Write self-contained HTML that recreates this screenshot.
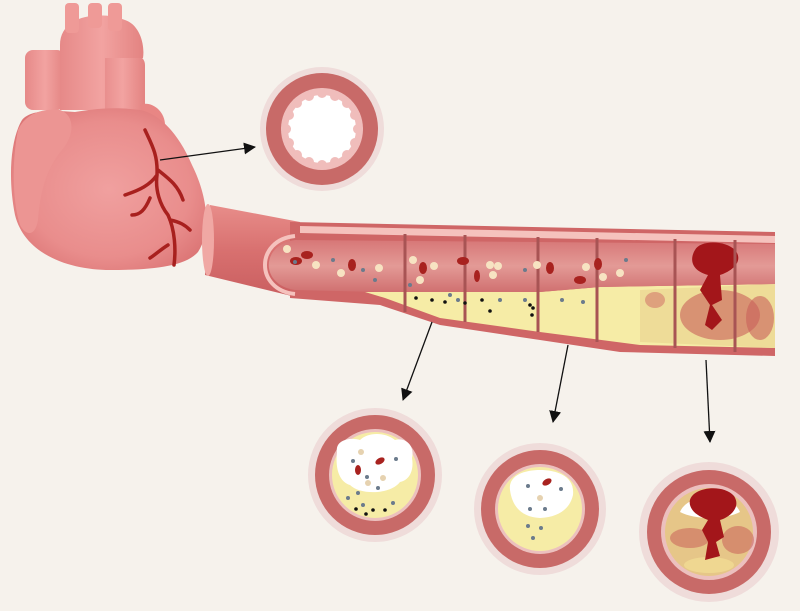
<!DOCTYPE html>
<html><head><meta charset="utf-8"><style>
html,body{margin:0;padding:0;background:#f6f2ec;}
svg{display:block}
</style></head><body>
<svg width="800" height="611" viewBox="0 0 800 611" xmlns="http://www.w3.org/2000/svg">
<defs>
<radialGradient id="hg" cx="0.5" cy="0.5" r="0.6"><stop offset="0" stop-color="#f0a09f"/><stop offset="0.7" stop-color="#e98d8c"/><stop offset="1" stop-color="#dc7676"/></radialGradient>
<linearGradient id="ao" x1="0" y1="0" x2="1" y2="0"><stop offset="0" stop-color="#e68988"/><stop offset="0.5" stop-color="#f2a3a1"/><stop offset="1" stop-color="#e38381"/></linearGradient>
<linearGradient id="tube" x1="0" y1="0" x2="0" y2="1"><stop offset="0" stop-color="#e88d8a"/><stop offset="0.5" stop-color="#d8706f"/><stop offset="1" stop-color="#c95e60"/></linearGradient>
<linearGradient id="lum" x1="0" y1="0" x2="0" y2="1"><stop offset="0" stop-color="#d77777"/><stop offset="0.5" stop-color="#e39a96"/><stop offset="1" stop-color="#d07070"/></linearGradient>
<marker id="ar" markerWidth="12" markerHeight="12" refX="11" refY="6" orient="auto" markerUnits="userSpaceOnUse"><path d="M0,0 L12,6 L0,12 z" fill="#111"/></marker>
</defs>
<rect width="800" height="611" fill="#f6f2ec"/>

<!-- heart -->
<g>
<rect x="25" y="50" width="40" height="60" rx="8" fill="url(#ao)"/>
<rect x="100" y="55" width="45" height="60" rx="10" fill="url(#ao)"/>
<path d="M60,110 L60,45 C60,15 100,10 125,20 C140,25 145,45 143,58 L105,58 L105,110 Z" fill="url(#ao)"/>
<rect x="65" y="3" width="14" height="30" rx="4" fill="#ef9a97"/>
<rect x="88" y="3" width="14" height="25" rx="4" fill="#ef9a97"/>
<rect x="108" y="3" width="14" height="28" rx="4" fill="#ef9a97"/>
<path d="M140,105 C150,100 165,110 165,125 L145,130 Z" fill="#e88684"/>
<path d="M22,120 C10,140 8,180 15,215 C25,255 70,270 110,270 C150,270 185,267 198,252 C212,230 207,195 192,165 C177,130 157,113 140,110 C110,106 90,110 75,112 C50,110 30,110 22,120 Z" fill="url(#hg)"/>
<path d="M18,130 C12,160 12,200 20,225 C25,235 35,238 38,220 C40,195 45,170 62,150 C75,135 75,115 60,110 C40,108 25,115 18,130 Z" fill="#ec9593"/>
<path d="M145,130 C152,145 158,155 157,175 C155,190 160,205 168,215 C175,230 176,250 174,265 M157,175 C150,185 140,190 125,195 M150,198 C145,210 140,215 132,215 M158,170 C168,178 178,185 183,200 M170,220 C180,222 185,225 190,230 M168,245 C160,250 155,255 150,258" stroke="#a8201e" stroke-width="3.5" fill="none" stroke-linecap="round"/>
</g>

<!-- top circle -->
<circle cx="322" cy="129" r="62" fill="#efdcda"/>
<circle cx="322" cy="129" r="56" fill="#c86a68"/>
<circle cx="322" cy="129" r="41" fill="#f0bdbb"/>
<circle cx="322" cy="129" r="34" fill="#fff"/>
<g fill="#f0bdbb">
<circle cx="358" cy="129" r="5"/><circle cx="355" cy="143" r="5"/><circle cx="347" cy="155" r="5"/><circle cx="335" cy="162" r="5"/><circle cx="322" cy="165" r="5"/><circle cx="309" cy="162" r="5"/><circle cx="297" cy="155" r="5"/><circle cx="289" cy="143" r="5"/><circle cx="286" cy="129" r="5"/><circle cx="289" cy="115" r="5"/><circle cx="297" cy="103" r="5"/><circle cx="309" cy="96" r="5"/><circle cx="322" cy="93" r="5"/><circle cx="335" cy="96" r="5"/><circle cx="347" cy="103" r="5"/><circle cx="355" cy="115" r="5"/>
</g>

<!-- outer tube left -->
<path d="M210,205 L300,222 L300,298 L205,275 Z" fill="url(#tube)"/>
<ellipse cx="208" cy="240" rx="6" ry="36" fill="#f0a8a4"/>
<!-- main tube walls -->
<path d="M290,222 L775,232 L775,356 L620,352 L540,340 L440,325 L380,305 L290,298 Z" fill="#cf6666"/>
<path d="M300,226 L775,236 L775,243 L300,233 Z" fill="#f5c2bd"/>
<!-- plaque -->
<path d="M365,292 L540,292 L600,287 L775,284 L775,348 L640,345 L540,332 L440,318 L385,298 Z" fill="#f6eca6"/>
<path d="M640,290 L775,284 L775,348 L640,342 Z" fill="#eedc98"/>
<ellipse cx="720" cy="315" rx="40" ry="25" fill="#c9605a" opacity="0.6"/>
<ellipse cx="760" cy="318" rx="14" ry="22" fill="#c9605a" opacity="0.6"/>
<ellipse cx="655" cy="300" rx="10" ry="8" fill="#d47a6a" opacity="0.6"/>
<!-- lumen -->
<path d="M295,240 L775,244 L775,284 L600,287 L540,292 L380,292 L295,290 C260,285 260,245 295,240 Z" fill="url(#lum)"/>
<path d="M295,236 C255,240 255,290 295,294" stroke="#f5c2bd" stroke-width="4" fill="none"/>
<!-- clot -->
<path d="M695,250 C700,240 725,240 735,250 C745,262 730,272 720,275 L722,300 L712,305 L722,320 L712,330 L705,325 L710,305 L700,290 L708,275 C690,270 690,258 695,250 Z" fill="#a3161a"/>
<!-- segment lines -->
<g stroke="#a85454" stroke-width="3">
<line x1="405" y1="234" x2="405" y2="312"/><line x1="465" y1="235" x2="465" y2="322"/>
<line x1="538" y1="237" x2="538" y2="332"/><line x1="597" y1="238" x2="597" y2="342"/>
<line x1="675" y1="239" x2="675" y2="348"/><line x1="735" y1="240" x2="735" y2="352"/>
</g>
<!-- cells -->
<g fill="#a8221f"><ellipse cx="296" cy="261" rx="6" ry="4"/><ellipse cx="307" cy="255" rx="6" ry="4"/><ellipse cx="352" cy="265" rx="4" ry="6"/><ellipse cx="423" cy="268" rx="4" ry="6"/><ellipse cx="463" cy="261" rx="6" ry="4"/><ellipse cx="477" cy="276" rx="3" ry="6"/><ellipse cx="550" cy="268" rx="4" ry="6"/><ellipse cx="598" cy="264" rx="4" ry="6"/><ellipse cx="580" cy="280" rx="6" ry="4"/></g>
<g fill="#f7e3c2"><circle cx="287" cy="249" r="4"/><circle cx="316" cy="265" r="4"/><circle cx="341" cy="273" r="4"/><circle cx="379" cy="268" r="4"/><circle cx="413" cy="260" r="4"/><circle cx="434" cy="266" r="4"/><circle cx="420" cy="280" r="4"/><circle cx="493" cy="275" r="4"/><circle cx="490" cy="265" r="4"/><circle cx="498" cy="266" r="4"/><circle cx="537" cy="265" r="4"/><circle cx="586" cy="267" r="4"/><circle cx="603" cy="277" r="4"/><circle cx="620" cy="273" r="4"/></g>
<g fill="#6b7b8c"><circle cx="295" cy="262" r="2"/><circle cx="333" cy="260" r="2"/><circle cx="363" cy="270" r="2"/><circle cx="375" cy="280" r="2"/><circle cx="410" cy="285" r="2"/><circle cx="450" cy="295" r="2"/><circle cx="458" cy="300" r="2"/><circle cx="500" cy="300" r="2"/><circle cx="525" cy="300" r="2"/><circle cx="525" cy="270" r="2"/><circle cx="562" cy="300" r="2"/><circle cx="583" cy="302" r="2"/><circle cx="626" cy="260" r="2"/></g>
<g fill="#111"><circle cx="416" cy="298" r="1.8"/><circle cx="432" cy="300" r="1.8"/><circle cx="445" cy="302" r="1.8"/><circle cx="465" cy="303" r="1.8"/><circle cx="482" cy="300" r="1.8"/><circle cx="490" cy="311" r="1.8"/><circle cx="530" cy="305" r="1.8"/><circle cx="532" cy="315" r="1.8"/><circle cx="533" cy="308" r="1.8"/></g>

<!-- arrows -->
<g stroke="#111" stroke-width="1.3" marker-end="url(#ar)">
<line x1="160" y1="160" x2="255" y2="147"/>
<line x1="432" y1="322" x2="403" y2="400"/>
<line x1="568" y1="345" x2="553" y2="422"/>
<line x1="706" y1="360" x2="710" y2="442"/>
</g>

<!-- bottom circle 1 -->
<g>
<circle cx="375" cy="475" r="67" fill="#efdcda"/><circle cx="375" cy="475" r="60" fill="#c86a68"/><circle cx="375" cy="475" r="46" fill="#ecc0be"/>
<circle cx="375" cy="475" r="43" fill="#f6eca6"/>
<path d="M337,452 C335,440 350,437 360,440 C368,432 385,432 395,440 C405,437 415,445 412,458 C414,470 410,480 400,482 C390,495 360,495 350,485 C340,482 335,470 337,452 Z" fill="#fff"/>
<ellipse cx="380" cy="461" rx="5" ry="3" fill="#a8221f" transform="rotate(-30 380 461)"/><ellipse cx="358" cy="470" rx="3" ry="5" fill="#a8221f"/>
<g fill="#e6d2b0"><circle cx="361" cy="452" r="3"/><circle cx="368" cy="483" r="3"/><circle cx="383" cy="478" r="3"/></g>
<g fill="#6b7b8c"><circle cx="353" cy="461" r="2"/><circle cx="396" cy="459" r="2"/><circle cx="367" cy="477" r="2"/><circle cx="378" cy="488" r="2"/><circle cx="358" cy="493" r="2"/><circle cx="363" cy="505" r="2"/><circle cx="393" cy="503" r="2"/><circle cx="348" cy="498" r="2"/></g>
<g fill="#111"><circle cx="356" cy="509" r="1.8"/><circle cx="366" cy="514" r="1.8"/><circle cx="373" cy="510" r="1.8"/><circle cx="385" cy="510" r="1.8"/></g>
</g>
<!-- bottom circle 2 -->
<g>
<circle cx="540" cy="509" r="66" fill="#efdcda"/><circle cx="540" cy="509" r="59" fill="#c86a68"/><circle cx="540" cy="509" r="45" fill="#ecc0be"/>
<circle cx="540" cy="509" r="42" fill="#f6eca6"/>
<path d="M510,490 C508,475 525,470 540,470 C555,470 575,475 573,495 C570,508 560,517 540,518 C520,517 512,505 510,490 Z" fill="#fff"/>
<ellipse cx="547" cy="482" rx="5" ry="3" fill="#a8221f" transform="rotate(-30 547 482)"/>
<circle cx="540" cy="498" r="3" fill="#e6d2b0"/>
<g fill="#6b7b8c"><circle cx="528" cy="486" r="2"/><circle cx="561" cy="489" r="2"/><circle cx="530" cy="509" r="2"/><circle cx="545" cy="509" r="2"/><circle cx="528" cy="526" r="2"/><circle cx="541" cy="528" r="2"/><circle cx="533" cy="538" r="2"/></g>
</g>
<!-- bottom circle 3 -->
<g>
<circle cx="709" cy="532" r="70" fill="#efdcda"/><circle cx="709" cy="532" r="62" fill="#c86a68"/><circle cx="709" cy="532" r="48" fill="#ecc0be"/>
<circle cx="709" cy="532" r="44" fill="#e6c688"/>
<path d="M680,512 C688,492 732,492 740,512 C725,520 695,520 680,512 Z" fill="#fff"/>
<ellipse cx="690" cy="538" rx="20" ry="10" fill="#c9605a" opacity="0.55"/>
<ellipse cx="738" cy="540" rx="16" ry="14" fill="#c9605a" opacity="0.55"/>
<ellipse cx="709" cy="565" rx="25" ry="8" fill="#f2de95" opacity="0.7"/>
<path d="M690,505 C686,488 722,482 734,496 C742,508 728,518 720,520 L724,537 L716,542 L720,556 L705,560 L708,542 L702,530 L708,520 C698,516 692,512 690,505 Z" fill="#a3161a"/>
</g>
</svg>
</body></html>
